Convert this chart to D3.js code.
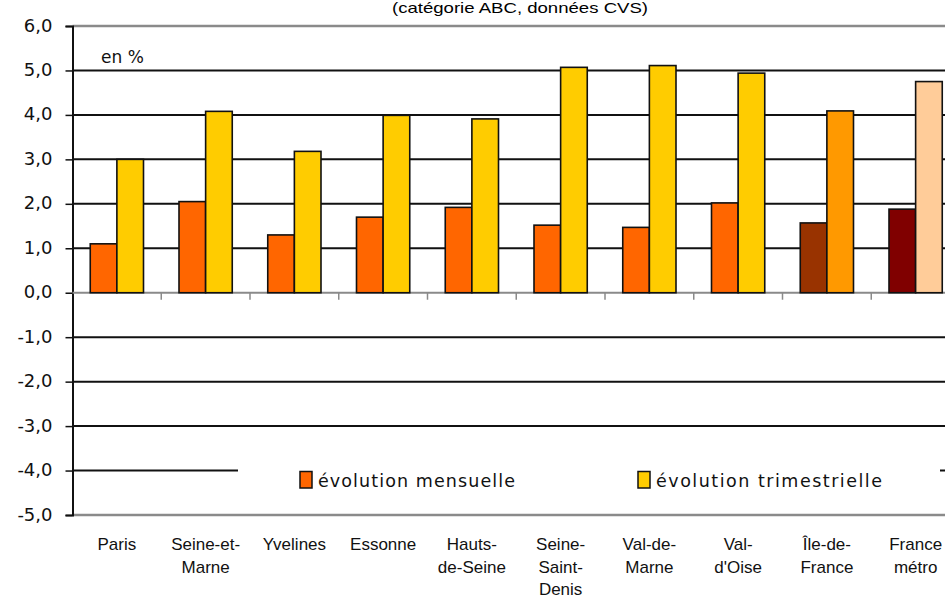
<!DOCTYPE html>
<html>
<head>
<meta charset="utf-8">
<script src="https://cdn.jsdelivr.net/npm/d3@7/dist/d3.min.js"></script>
<style>
  html, body { margin: 0; padding: 0; background: #fff; }
  svg { display: block; }
</style>
</head>
<body>
<svg id="chart" width="945" height="598"></svg>
<script>
// ---- data ----
const categories = [
  ["Paris"], ["Seine-et-", "Marne"], ["Yvelines"], ["Essonne"], ["Hauts-", "de-Seine"],
  ["Seine-", "Saint-", "Denis"], ["Val-de-", "Marne"], ["Val-", "d'Oise"], ["Île-de-", "France"], ["France", "métro"]
];
const evolutionMensuelle = [1.1, 2.05, 1.3, 1.7, 1.92, 1.52, 1.47, 2.02, 1.57, 1.88];
const evolutionTrimestrielle = [3.0, 4.08, 3.18, 3.99, 3.91, 5.07, 5.11, 4.94, 4.09, 4.75];
const yTicks = [6, 5, 4, 3, 2, 1, 0, -1, -2, -3, -4, -5];
const seriesNames = ["évolution mensuelle", "évolution trimestrielle"];
const title = "(catégorie ABC, données CVS)";
const unitLabel = "en %";

// ---- styles ----
const colorsMensuelle = ["#FF6600","#FF6600","#FF6600","#FF6600","#FF6600","#FF6600","#FF6600","#FF6600","#993300","#800000"];
const colorsTrimestrielle = ["#FFCC00","#FFCC00","#FFCC00","#FFCC00","#FFCC00","#FFCC00","#FFCC00","#FFCC00","#FF9900","#FFCC99"];

(function () {
const svg = d3.select("#chart");
const mLeft = 72.5, mRight = 960, mTop = 26, mBottom = 515;

const x = d3.scaleBand().domain(d3.range(categories.length)).range([mLeft, mRight])
  .paddingInner(0.4).paddingOuter(0.2);
const xs = d3.scaleBand().domain([0, 1]).range([0, x.bandwidth()]);
const y = d3.scaleLinear().domain([-5, 6]).range([mBottom, mTop]);

// title
svg.append("text").attr("x", 520).attr("y", 13).attr("text-anchor", "middle")
  .attr("font-family", "Liberation Sans, Arial, sans-serif").attr("font-size", 15)
  .attr("textLength", 256).attr("lengthAdjust", "spacingAndGlyphs").attr("fill", "#000")
  .text(title);

// gridlines
svg.append("g").selectAll("line").data(yTicks.filter(d => d !== 0)).join("line")
  .attr("x1", mLeft).attr("x2", 945)
  .attr("y1", d => y(d)).attr("y2", d => y(d))
  .attr("stroke", d => (d === 6 || d === -5) ? "#8a8a8a" : "#111")
  .attr("stroke-width", d => (d === 6 || d === -5) ? 2.5 : 2);

// y axis
const yAxis = d3.axisLeft(y).tickValues(yTicks).tickSize(7).tickPadding(13)
  .tickFormat(d => d3.format(".1f")(d).replace(".", ",").replace("−", "-"));
const gy = svg.append("g").attr("transform", `translate(${mLeft},0)`).call(yAxis);
gy.select(".domain").attr("stroke", "#111").attr("stroke-width", 2);
gy.selectAll(".tick line").attr("stroke", "#111").attr("stroke-width", 1.5);
gy.selectAll(".tick text").attr("font-family", "DejaVu Sans, Verdana, sans-serif")
  .attr("font-size", 18).attr("fill", "#111").attr("dy", "0.28em");

// zero axis with group ticks
const x0line = svg.append("g");
x0line.append("line").attr("x1", mLeft).attr("x2", 945).attr("y1", y(0)).attr("y2", y(0))
  .attr("stroke", "#8a8a8a").attr("stroke-width", 2);
x0line.selectAll("line.t").data(d3.range(1, categories.length)).join("line").attr("class", "t")
  .attr("x1", i => x(i) - x.step() * x.paddingInner() / 2)
  .attr("x2", i => x(i) - x.step() * x.paddingInner() / 2)
  .attr("y1", y(0)).attr("y2", y(0) + 7)
  .attr("stroke", "#8a8a8a").attr("stroke-width", 1.5);

// bars
const groups = svg.append("g").selectAll("g").data(categories).join("g")
  .attr("transform", (d, i) => `translate(${x(i)},0)`);
groups.append("rect")
  .attr("x", xs(0)).attr("width", xs.bandwidth())
  .attr("y", (d, i) => y(evolutionMensuelle[i]))
  .attr("height", (d, i) => y(0) - y(evolutionMensuelle[i]))
  .attr("fill", (d, i) => colorsMensuelle[i]).attr("stroke", "#111").attr("stroke-width", 1.6);
groups.append("rect")
  .attr("x", xs(1)).attr("width", xs.bandwidth())
  .attr("y", (d, i) => y(evolutionTrimestrielle[i]))
  .attr("height", (d, i) => y(0) - y(evolutionTrimestrielle[i]))
  .attr("fill", (d, i) => colorsTrimestrielle[i]).attr("stroke", "#111").attr("stroke-width", 1.6);

// category labels
const lab = svg.append("g").selectAll("text").data(categories).join("text")
  .attr("text-anchor", "middle")
  .attr("font-family", "Liberation Sans, Arial, sans-serif").attr("font-size", 17)
  .attr("fill", "#111")
  .attr("transform", (d, i) => `translate(${x(i) + x.bandwidth() / 2},550)`);
lab.selectAll("tspan").data(d => d).join("tspan")
  .attr("x", 0).attr("y", (d, j) => j * 22.5).text(d => d);

// unit label
svg.append("text").attr("x", 101).attr("y", 63)
  .attr("font-family", "DejaVu Sans, Verdana, sans-serif").attr("font-size", 17)
  .attr("fill", "#111").text(unitLabel);

// legend
const lg = svg.append("g");
lg.append("rect").attr("x", 238).attr("y", 445).attr("width", 702).attr("height", 55).attr("fill", "#fff");
const legendX = [300, 638];
const legendLen = [197, 226];
const legendColors = [colorsMensuelle[0], colorsTrimestrielle[0]];
seriesNames.forEach((name, k) => {
  lg.append("rect").attr("x", legendX[k]).attr("y", 471.5).attr("width", 12).attr("height", 16.5)
    .attr("fill", legendColors[k]).attr("stroke", "#111").attr("stroke-width", 1.5);
  lg.append("text").attr("x", legendX[k] + 18).attr("y", 487)
    .attr("font-family", "DejaVu Sans, sans-serif").attr("font-size", 17.5)
    .attr("textLength", legendLen[k]).attr("lengthAdjust", "spacing")
    .attr("fill", "#111").text(name);
});
})();
</script>
</body>
</html>
